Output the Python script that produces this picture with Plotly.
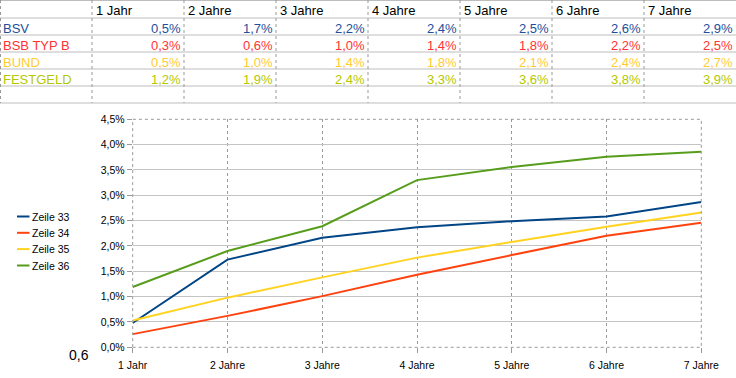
import plotly.graph_objects as go

# ---- data ----
periods = ["1 Jahr", "2 Jahre", "3 Jahre", "4 Jahre", "5 Jahre", "6 Jahre", "7 Jahre"]
table_labels = ["BSV", "BSB TYP B", "BUND", "FESTGELD"]
series_names = ["Zeile 33", "Zeile 34", "Zeile 35", "Zeile 36"]
bsv = [0.48, 1.73, 2.16, 2.37, 2.49, 2.58, 2.87]
bsb = [0.26, 0.62, 1.01, 1.43, 1.82, 2.20, 2.46]
bund = [0.53, 0.98, 1.38, 1.77, 2.08, 2.38, 2.66]
festgeld = [1.19, 1.90, 2.39, 3.30, 3.56, 3.76, 3.86]
stray_cell_text = "0,6"

series = [bsv, bsb, bund, festgeld]

# ---- style ----
W, H = 736, 378
line_colors = ["#004586", "#ff420e", "#ffd320", "#579d1c"]
text_colors = ["#1c4f9c", "#ff3333", "#ffcc33", "#b4c800"]
FONT = "Liberation Sans, Arial, sans-serif"


def px(x):
    return x / W


def py(y):
    return 1 - y / H


fig = go.Figure()
for name, vals, col in zip(series_names, series, line_colors):
    fig.add_trace(go.Scatter(
        x=periods, y=[v / 100 for v in vals], mode="lines", name=name,
        line=dict(color=col, width=2), showlegend=False, hoverinfo="skip",
    ))

shapes = []
annotations = []

# ---- spreadsheet table ----
col_w = 92
row_edges = [0.5, 18, 35, 52, 69, 86, 103]
for y in row_edges:
    shapes.append(dict(type="line", xref="paper", yref="paper",
                       x0=0, x1=1, y0=py(y), y1=py(y),
                       line=dict(color="#bdbdbd", width=1)))
for k in range(0, 8):
    x = 0.5 if k == 0 else k * col_w
    shapes.append(dict(type="line", xref="paper", yref="paper",
                       x0=px(x), x1=px(x), y0=py(0), y1=py(103),
                       line=dict(color="#999999", width=1, dash="dot")))

row_centers = [11, 28.5, 45.5, 62.5, 79.5]
for j, p in enumerate(periods):
    annotations.append(dict(xref="paper", yref="paper", x=px((j + 1) * col_w + 2),
                            y=py(row_centers[0]), text=p, showarrow=False,
                            xanchor="left", yanchor="middle",
                            font=dict(family=FONT, size=13, color="#000000")))
for i, (lab, vals, tc) in enumerate(zip(table_labels, series, text_colors)):
    yc = py(row_centers[i + 1])
    annotations.append(dict(xref="paper", yref="paper", x=px(1), y=yc, text=lab,
                            showarrow=False, xanchor="left", yanchor="middle",
                            font=dict(family=FONT, size=13, color=tc)))
    for j, v in enumerate(vals):
        t = f"{v:.1f}".replace(".", ",") + "%"
        annotations.append(dict(xref="paper", yref="paper", x=px((j + 2) * col_w - 1),
                                y=yc, text=t, showarrow=False,
                                xanchor="right", yanchor="middle",
                                font=dict(family=FONT, size=13, color=tc)))

# ---- stray cell value ----
annotations.append(dict(xref="paper", yref="paper", x=px(79), y=py(354.5),
                        text=stray_cell_text, showarrow=False,
                        xanchor="center", yanchor="middle",
                        font=dict(family=FONT, size=14, color="#000000")))

# ---- manual legend ----
leg_y = [216.5, 232.8, 249.1, 265.5]
for name, col, y in zip(series_names, line_colors, leg_y):
    shapes.append(dict(type="line", xref="paper", yref="paper",
                       x0=px(17), x1=px(29.5), y0=py(y), y1=py(y),
                       line=dict(color=col, width=2)))
    annotations.append(dict(xref="paper", yref="paper", x=px(29.5), y=py(y),
                            text=name, showarrow=False, xanchor="left",
                            yanchor="middle",
                            font=dict(family=FONT, size=10.5, color="#000000")))

# ---- plot frame ----
shapes.append(dict(type="rect", xref="x domain", yref="y domain",
                   x0=0, x1=1, y0=0, y1=1,
                   line=dict(color="#999999", width=1, dash="dot")))

fig.update_layout(
    width=W, height=H,
    margin=dict(l=0, r=0, t=0, b=0, pad=0, autoexpand=False),
    paper_bgcolor="white", plot_bgcolor="white",
    separators=", ",
    shapes=shapes, annotations=annotations,
    font=dict(family=FONT, size=10.5, color="#000000"),
    hovermode=False,
    xaxis=dict(
        domain=[px(132.7), px(701.3)], range=[0, 6],
        showgrid=True, gridcolor="#999999", griddash="dot", gridwidth=1,
        ticks="outside", ticklen=5, tickcolor="#999999",
        ticklabelstandoff=3,
        tickfont=dict(family=FONT, size=10.5, color="#000000"),
        showline=False, zeroline=False, automargin=False,
    ),
    yaxis=dict(
        domain=[py(347.3), py(119.3)], range=[0, 0.045],
        dtick=0.005, tickformat=".1%",
        showgrid=True, gridcolor="#c4c4c4", gridwidth=1,
        ticks="outside", ticklen=5, tickcolor="#999999",
        tickfont=dict(family=FONT, size=10.5, color="#000000"),
        showline=False, zeroline=False, automargin=False,
    ),
)

fig.write_html(
    "out.html",
    config={"displayModeBar": False},
    post_script="document.body.style.margin='0';document.body.style.overflow='hidden';",
)
